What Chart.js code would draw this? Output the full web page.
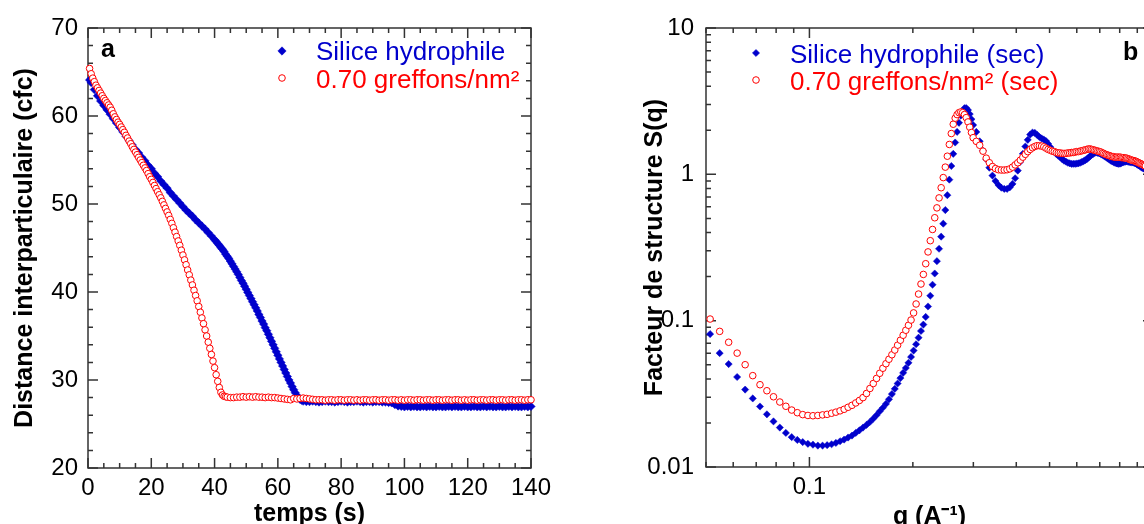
<!DOCTYPE html>
<html>
<head>
<meta charset="utf-8">
<script src="https://cdn.jsdelivr.net/npm/chart.js@4.4.1/dist/chart.umd.min.js"></script>
<style>
  html, body { margin: 0; padding: 0; background: #fff; overflow: hidden; }
  body { width: 1144px; height: 524px; position: relative; }
  canvas { position: absolute; top: 0; }
  #chartA { left: 0; }
  #chartB { left: 630px; }
</style>
</head>
<body>
<canvas id="chartA" width="580" height="524"></canvas>
<canvas id="chartB" width="570" height="524"></canvas>
<script>
// ---- panel a : distance vs time ----
const timeTicks = [0, 20, 40, 60, 80, 100, 120, 140];
const distTicks = [20, 30, 40, 50, 60, 70];

const blueTime = [
  0.5, 1, 2, 3, 4, 5, 6, 7, 8, 9, 10,
  11, 12, 13, 14, 15, 16, 17, 18, 19, 20,
  21, 22, 23, 24, 25, 26, 27, 28, 29, 30,
  31, 32, 33, 34, 35, 36, 37, 38, 39, 40,
  40.5, 41, 41.5, 42, 42.5, 43, 43.5, 44, 44.5, 45,
  45.5, 46, 46.5, 47, 47.5, 48, 48.5, 49, 49.5, 50,
  50.5, 51, 51.5, 52, 52.5, 53, 53.5, 54, 54.5, 55,
  55.5, 56, 56.5, 57, 57.5, 58, 58.5, 59, 59.5, 60,
  60.5, 61, 61.5, 62, 62.5, 63, 63.5, 64, 64.5, 65,
  65.5, 66, 66.5, 67, 67.5, 68, 69, 70,
  71, 72, 73, 74, 75, 76, 77, 78, 79, 80,
  81, 82, 83, 84, 85, 86, 87, 88, 89, 90,
  91, 92, 93, 94, 95, 96, 97, 98, 99, 100,
  101, 102, 103, 104, 105, 106, 107, 108, 109, 110,
  111, 112, 113, 114, 115, 116, 117, 118, 119, 120,
  121, 122, 123, 124, 125, 126, 127, 128, 129, 130,
  131, 132, 133, 134, 135, 136, 137, 138, 139, 140
];
const blueDist = [
  64.1, 63.8, 63.0, 62.3, 61.7, 61.2, 60.7, 60.2, 59.7, 59.2, 58.7,
  58.2, 57.7, 57.2, 56.7, 56.2, 55.8, 55.3, 54.9, 54.4, 54.0,
  53.5, 53.1, 52.6, 52.2, 51.8, 51.3, 50.9, 50.5, 50.1, 49.7,
  49.3, 48.95, 48.6, 48.2, 47.85, 47.5, 47.15, 46.75, 46.35, 45.95,
  45.75, 45.5, 45.3, 45.05, 44.85, 44.6, 44.3, 44.05, 43.8, 43.5,
  43.2, 42.9, 42.6, 42.3, 42.0, 41.65, 41.3, 41.0, 40.65, 40.3,
  39.95, 39.6, 39.25, 38.9, 38.55, 38.2, 37.85, 37.45, 37.1, 36.7,
  36.35, 35.95, 35.6, 35.2, 34.8, 34.4, 34.0, 33.6, 33.2, 32.8,
  32.4, 32.0, 31.6, 31.2, 30.8, 30.4, 30.0, 29.65, 29.25, 28.9,
  28.55, 28.25, 28.0, 27.8, 27.7, 27.6, 27.55, 27.55,
  27.6, 27.55, 27.5, 27.55, 27.6, 27.55, 27.55, 27.5, 27.55, 27.6,
  27.55, 27.5, 27.55, 27.55, 27.6, 27.55, 27.5, 27.55, 27.55, 27.5,
  27.55, 27.55, 27.5, 27.5, 27.45, 27.4, 27.2, 27.05, 27.0, 26.95,
  27.0, 26.95, 27.0, 26.95, 26.95, 27.0, 26.95, 27.0, 26.95, 26.95,
  27.0, 26.95, 26.95, 27.0, 26.95, 27.0, 26.95, 26.95, 27.0, 26.95,
  26.95, 27.0, 26.95, 26.95, 27.0, 26.95, 27.0, 26.95, 26.95, 27.0,
  26.95, 26.95, 27.0, 26.95, 27.0, 26.95, 26.95, 27.0, 26.95, 27.0
];

const redTime = [
  0.5, 1, 1.5, 2, 2.5, 3, 3.5, 4, 4.5, 5,
  5.5, 6, 6.5, 7, 7.5, 8, 8.5, 9, 9.5, 10,
  10.5, 11, 11.5, 12, 12.5, 13, 13.5, 14, 14.5, 15,
  15.5, 16, 16.5, 17, 17.5, 18, 18.5, 19, 19.5, 20,
  20.5, 21, 21.5, 22, 22.5, 23, 23.5, 24, 24.5, 25,
  25.5, 26, 26.5, 27, 27.5, 28, 28.5, 29, 29.5, 30,
  30.5, 31, 31.5, 32, 32.5, 33, 33.5, 34, 34.5, 35,
  35.5, 36, 36.5, 37, 37.5, 38, 38.5, 39, 39.5, 40,
  40.5, 41, 41.5, 42, 42.5, 43, 43.5, 44,
  45, 46, 47, 48, 49, 50, 51, 52, 53, 54,
  55, 56, 57, 58, 59, 60, 61, 62, 63, 64,
  65, 66, 67, 68, 69, 70, 71, 72, 73, 74,
  75, 76, 77, 78, 79, 80, 81, 82, 83, 84,
  85, 86, 87, 88, 89, 90, 91, 92, 93, 94,
  95, 96, 97, 98, 99, 100, 101, 102, 103, 104,
  105, 106, 107, 108, 109, 110, 111, 112, 113, 114,
  115, 116, 117, 118, 119, 120, 121, 122, 123, 124,
  125, 126, 127, 128, 129, 130, 131, 132, 133, 134,
  135, 136, 137, 138, 139, 140
];
const redDist = [
  65.4, 64.8, 64.3, 63.9, 63.5, 63.2, 62.9, 62.6, 62.3, 62.0,
  61.75, 61.5, 61.25, 61.0, 60.65, 60.25, 59.9, 59.6, 59.3, 59.05,
  58.75, 58.45, 58.15, 57.8, 57.5, 57.15, 56.85, 56.5, 56.2, 55.9,
  55.6, 55.3, 55.0, 54.7, 54.4, 54.1, 53.8, 53.45, 53.1, 52.8,
  52.45, 52.1, 51.75, 51.4, 51.05, 50.7, 50.3, 49.9, 49.5, 49.1,
  48.7, 48.25, 47.8, 47.3, 46.8, 46.3, 45.8, 45.3, 44.75, 44.2,
  43.65, 43.1, 42.5, 41.95, 41.35, 40.8, 40.2, 39.6, 39.0, 38.35,
  37.7, 37.05, 36.4, 35.7, 35.0, 34.3, 33.6, 32.9, 32.15, 31.4,
  30.6, 29.85, 29.15, 28.6, 28.3, 28.15, 28.1, 28.05,
  28.0, 28.0, 28.05, 28.05, 28.1, 28.05, 28.1, 28.05, 28.1, 28.05,
  28.05, 28.0, 28.05, 28.0, 28.0, 27.95, 27.9, 27.85, 27.8, 27.75,
  27.9, 27.85, 27.9, 27.95, 27.9, 27.85, 27.8, 27.75, 27.75, 27.75,
  27.7, 27.75, 27.75, 27.7, 27.75, 27.75, 27.7, 27.75, 27.75, 27.7,
  27.75, 27.7, 27.75, 27.75, 27.7, 27.75, 27.75, 27.7, 27.75, 27.75,
  27.7, 27.75, 27.75, 27.7, 27.75, 27.7, 27.75, 27.75, 27.7, 27.75,
  27.75, 27.7, 27.75, 27.75, 27.7, 27.75, 27.75, 27.7, 27.75, 27.75,
  27.7, 27.75, 27.75, 27.7, 27.75, 27.7, 27.75, 27.75, 27.7, 27.75,
  27.75, 27.7, 27.75, 27.75, 27.7, 27.75, 27.75, 27.7, 27.75, 27.75,
  27.7, 27.75, 27.75, 27.7, 27.75, 27.75
];

// ---- panel b : structure factor ----
const qTicks = [0.1, 1];
const sTicks = [0.01, 0.1, 1, 10];

const qValues = [
  0.0514, 0.0548, 0.0582, 0.0616, 0.065, 0.0684, 0.0718, 0.0752, 0.0786, 0.082,
  0.0854, 0.0888, 0.0922, 0.0956, 0.099, 0.1024, 0.1058, 0.1092, 0.1126, 0.116,
  0.1194, 0.1228, 0.1262, 0.1296, 0.133, 0.1364, 0.1398, 0.1432, 0.1466, 0.15,
  0.1534, 0.1568, 0.1602, 0.1636, 0.167, 0.1704, 0.1738, 0.1772, 0.1806, 0.184,
  0.1874, 0.1908, 0.1942, 0.1976, 0.201, 0.2044, 0.2078, 0.2112, 0.2146, 0.218,
  0.2214, 0.2248, 0.2282, 0.2316, 0.235, 0.2384, 0.2418, 0.2452, 0.2486, 0.252,
  0.2554, 0.2588, 0.2622, 0.2656, 0.269, 0.2724, 0.2758, 0.2792, 0.2826, 0.286,
  0.2894, 0.2928, 0.2962, 0.2996,
  0.306, 0.313, 0.320, 0.327, 0.334, 0.341, 0.348, 0.355, 0.362, 0.369,
  0.376, 0.383, 0.390, 0.397, 0.404, 0.411, 0.418, 0.425, 0.432, 0.439,
  0.446, 0.453, 0.460, 0.467, 0.474, 0.481, 0.488, 0.495, 0.502, 0.509,
  0.516, 0.523, 0.530, 0.537, 0.544, 0.551, 0.558, 0.565, 0.572, 0.579,
  0.586, 0.593, 0.600, 0.607, 0.614, 0.621, 0.628, 0.635, 0.642, 0.649,
  0.656, 0.663, 0.670, 0.677, 0.684, 0.691, 0.698, 0.705, 0.712, 0.719,
  0.726, 0.733, 0.740, 0.747, 0.754, 0.761, 0.768, 0.775, 0.782, 0.789,
  0.796, 0.803, 0.810, 0.817, 0.824, 0.831, 0.838, 0.845, 0.852, 0.859,
  0.866, 0.873, 0.880, 0.887, 0.894, 0.901, 0.908, 0.915, 0.922, 0.929,
  0.936, 0.943, 0.950
];
const sBlue = [
  0.081, 0.060, 0.0505, 0.0412, 0.0338, 0.0294, 0.0259, 0.0229, 0.0205, 0.0186,
  0.0171, 0.0160, 0.0153, 0.0148, 0.0144, 0.0142, 0.0140, 0.0140, 0.0141, 0.0143,
  0.0146, 0.0150, 0.0154, 0.0159, 0.0164, 0.0171, 0.0178, 0.0186, 0.0194, 0.0203,
  0.0214, 0.0226, 0.0240, 0.0254, 0.0270, 0.0290, 0.0315, 0.0342, 0.0372, 0.0405,
  0.0440, 0.0475, 0.0515, 0.0565, 0.0625, 0.069, 0.0765, 0.085, 0.094, 0.106,
  0.125, 0.148, 0.176, 0.21, 0.255, 0.31, 0.375, 0.46, 0.57, 0.72,
  0.92, 1.14, 1.38, 1.65, 1.95, 2.25, 2.52, 2.72, 2.83, 2.84,
  2.75, 2.58, 2.38, 2.17,
  1.95, 1.68, 1.45, 1.27, 1.11, 0.98, 0.90, 0.845, 0.81, 0.795,
  0.795, 0.815, 0.86, 0.94, 1.06, 1.22, 1.38, 1.55, 1.72, 1.87,
  1.93, 1.92, 1.86, 1.80, 1.76, 1.73, 1.69, 1.62, 1.54, 1.47,
  1.42, 1.38, 1.34, 1.31, 1.27, 1.24, 1.22, 1.20, 1.19, 1.18,
  1.18, 1.18, 1.185, 1.19, 1.20, 1.215, 1.23, 1.25, 1.27, 1.30,
  1.33, 1.36, 1.38, 1.40, 1.41, 1.40, 1.39, 1.375, 1.36, 1.34,
  1.32, 1.30, 1.28, 1.26, 1.24, 1.225, 1.21, 1.20, 1.19, 1.185,
  1.18, 1.185, 1.195, 1.205, 1.215, 1.22, 1.225, 1.22, 1.215, 1.21,
  1.21, 1.205, 1.20, 1.19, 1.18, 1.165, 1.15, 1.14, 1.125, 1.11,
  1.10, 1.09, 1.08
];
const sRed = [
  0.1026, 0.0845, 0.0712, 0.0600, 0.0500, 0.0421, 0.0365, 0.0332, 0.0302, 0.0278,
  0.0260, 0.0245, 0.0235, 0.0228, 0.0225, 0.0224, 0.0225, 0.0227, 0.0229, 0.0233,
  0.0237, 0.0242, 0.0248, 0.0256, 0.0264, 0.0274, 0.0285, 0.0298, 0.0318, 0.0344,
  0.0372, 0.0403, 0.0437, 0.0473, 0.0508, 0.0545, 0.0585, 0.063, 0.068, 0.0735,
  0.0795, 0.086, 0.093, 0.101, 0.113, 0.13, 0.152, 0.178, 0.207, 0.245,
  0.295, 0.352, 0.42, 0.505, 0.59, 0.69, 0.81, 0.95, 1.12, 1.33,
  1.6, 1.9, 2.2, 2.42, 2.56, 2.64, 2.67, 2.64, 2.56, 2.44,
  2.28, 2.1, 1.93, 1.78,
  1.68, 1.58, 1.44, 1.29, 1.20, 1.13, 1.095, 1.075, 1.07, 1.07,
  1.075, 1.09, 1.12, 1.16, 1.20, 1.25, 1.31, 1.37, 1.43, 1.48,
  1.52, 1.55, 1.57, 1.57, 1.56, 1.54, 1.51, 1.48, 1.46, 1.44,
  1.43, 1.41, 1.40, 1.40, 1.39, 1.39, 1.39, 1.40, 1.40, 1.41,
  1.41, 1.42, 1.43, 1.43, 1.44, 1.45, 1.46, 1.47, 1.48, 1.49,
  1.49, 1.48, 1.47, 1.46, 1.45, 1.44, 1.43, 1.42, 1.40, 1.39,
  1.37, 1.36, 1.35, 1.34, 1.33, 1.32, 1.32, 1.31, 1.31, 1.31,
  1.31, 1.31, 1.30, 1.30, 1.30, 1.29, 1.29, 1.28, 1.27, 1.26,
  1.25, 1.245, 1.24, 1.23, 1.225, 1.21, 1.20, 1.19, 1.18, 1.17,
  1.16, 1.15, 1.14
];

const BLUE = '#0000cc';
const RED = '#ff0000';
const FONT = "'Liberation Sans', Arial, sans-serif";

Chart.defaults.font.family = FONT;
Chart.defaults.font.size = 24;
Chart.defaults.color = '#000';

const toPoints = (xs, ys) => xs.map((x, i) => ({ x: x, y: ys[i] }));
const setTicks = values => scale => { scale.ticks = values.map(v => ({ value: v })); };

// minor tick positions (axis decoration only)
const linMinor = (min, max, step) => { const out = []; for (let v = min; v <= max + 1e-9; v += step) out.push(v); return out; };
const logMinor = (decades, mults) => { const out = []; decades.forEach(d => mults.forEach(m => out.push(m * d))); return out; };

function drawMarker(ctx, ds, x, y) {
  const r = ds.pointRadius;
  ctx.beginPath();
  if (ds.pointStyle === 'rectRot') {
    ctx.moveTo(x, y - r); ctx.lineTo(x + r, y); ctx.lineTo(x, y + r); ctx.lineTo(x - r, y);
    ctx.closePath();
  } else {
    ctx.arc(x, y, r, 0, Math.PI * 2);
  }
  ctx.fillStyle = ds.backgroundColor;
  ctx.fill();
  if (ds.borderWidth) {
    ctx.lineWidth = ds.borderWidth;
    ctx.strokeStyle = ds.borderColor;
    ctx.stroke();
  }
}

// frame with inward ticks on all four sides, legend and panel letter
const frameTicks = {
  id: 'frameTicks',
  beforeDatasetsDraw(chart, args, opts) {
    const { ctx, chartArea: a, scales } = chart;
    ctx.save();
    ctx.strokeStyle = '#333';
    ctx.lineWidth = 1.5;
    ctx.beginPath();
    const mark = (scale, v, len) => {
      const p = scale.getPixelForValue(v);
      if (scale.isHorizontal()) {
        ctx.moveTo(p, a.bottom); ctx.lineTo(p, a.bottom - len);
        ctx.moveTo(p, a.top); ctx.lineTo(p, a.top + len);
      } else {
        ctx.moveTo(a.left, p); ctx.lineTo(a.left + len, p);
        ctx.moveTo(a.right, p); ctx.lineTo(a.right - len, p);
      }
    };
    opts.xMinor.forEach(v => mark(scales.x, v, 5));
    opts.yMinor.forEach(v => mark(scales.y, v, 5));
    scales.x.ticks.forEach(t => mark(scales.x, t.value, 10));
    scales.y.ticks.forEach(t => mark(scales.y, t.value, 10));
    ctx.stroke();
    ctx.strokeRect(a.left, a.top, a.right - a.left, a.bottom - a.top);
    ctx.restore();
  },
  afterDraw(chart, args, opts) {
    const { ctx } = chart;
    ctx.save();
    ctx.textAlign = 'left';
    ctx.textBaseline = 'alphabetic';
    ctx.fillStyle = '#000';
    ctx.font = 'bold 25px ' + FONT;
    ctx.fillText(opts.panel.text, opts.panel.x, opts.panel.y);
    ctx.font = '26px ' + FONT;
    opts.legend.rows.forEach((row, i) => {
      const ds = chart.data.datasets[i];
      drawMarker(ctx, ds, opts.legend.markerX, row.markerY);
      ctx.fillStyle = ds.borderColor;
      ctx.fillText(ds.label, opts.legend.textX, row.textY);
    });
    ctx.restore();
  }
};

const titleFont = { size: 25, weight: 'bold' };

new Chart(document.getElementById('chartA'), {
  type: 'scatter',
  data: {
    datasets: [
      { label: 'Silice hydrophile', data: toPoints(blueTime, blueDist), pointStyle: 'rectRot',
        pointRadius: 4.2, backgroundColor: BLUE, borderColor: BLUE, borderWidth: 0.5, order: 2, clip: false },
      { label: '0.70 greffons/nm\u00B2', data: toPoints(redTime, redDist), pointStyle: 'circle',
        pointRadius: 3.3, backgroundColor: '#fff', borderColor: RED, borderWidth: 1, order: 1, clip: false }
    ]
  },
  options: {
    responsive: false, animation: false, devicePixelRatio: 1, events: [],
    layout: { padding: { top: 28, right: 49, bottom: 0, left: 0 } },
    plugins: {
      legend: { display: false }, tooltip: { enabled: false },
      frameTicks: {
        xMinor: linMinor(5, 135, 5), yMinor: linMinor(22, 68, 2),
        panel: { text: 'a', x: 101, y: 57 },
        legend: { markerX: 282, textX: 316, rows: [{ markerY: 51, textY: 60 }, { markerY: 78, textY: 88 }] }
      }
    },
    scales: {
      x: {
        type: 'linear', min: 0, max: 140,
        afterBuildTicks: setTicks(timeTicks),
        afterFit: s => { s.height = 56; },
        grid: { display: false, drawTicks: false }, border: { display: false },
        ticks: { padding: 6, maxRotation: 0, autoSkip: false },
        title: { display: true, text: 'temps (s)', font: titleFont, padding: { top: 0, bottom: -5 } }
      },
      y: {
        type: 'linear', min: 20, max: 70,
        afterBuildTicks: setTicks(distTicks),
        afterFit: s => { s.width = 88; },
        grid: { display: false, drawTicks: false }, border: { display: false },
        ticks: { padding: 10 },
        title: { display: true, text: 'Distance interparticulaire (cfc)', font: titleFont, padding: { top: 10, bottom: 0 } }
      }
    }
  },
  plugins: [frameTicks]
});

new Chart(document.getElementById('chartB'), {
  type: 'scatter',
  data: {
    datasets: [
      { label: 'Silice hydrophile (sec)', data: toPoints(qValues, sBlue), pointStyle: 'rectRot',
        pointRadius: 3.6, backgroundColor: BLUE, borderColor: BLUE, borderWidth: 0.5, order: 2, clip: false },
      { label: '0.70 greffons/nm\u00B2 (sec)', data: toPoints(qValues, sRed), pointStyle: 'circle',
        pointRadius: 3.3, backgroundColor: '#fff', borderColor: RED, borderWidth: 1, order: 1, clip: false }
    ]
  },
  options: {
    responsive: false, animation: false, devicePixelRatio: 1, events: [],
    layout: { padding: { top: 28, right: 47, bottom: 0, left: 0 } },
    plugins: {
      legend: { display: false }, tooltip: { enabled: false },
      frameTicks: {
        xMinor: logMinor([0.01], [5, 6, 7, 8, 9]).concat(logMinor([0.1], [2, 3, 4, 5, 6, 7, 8, 9])),
        yMinor: logMinor([0.01, 0.1, 1], [2, 3, 4, 5, 6, 7, 8, 9]),
        panel: { text: 'b', x: 493, y: 60 },
        legend: { markerX: 126, textX: 160, rows: [{ markerY: 53, textY: 63 }, { markerY: 80, textY: 90 }] }
      }
    },
    scales: {
      x: {
        type: 'logarithmic', min: 0.05, max: 1,
        afterBuildTicks: setTicks(qTicks),
        afterFit: s => { s.height = 57; },
        grid: { display: false, drawTicks: false }, border: { display: false },
        ticks: { padding: 6, maxRotation: 0, autoSkip: false, callback: v => String(v) },
        title: { display: true, text: 'q (A\u207B\u00B9)', font: titleFont, padding: { top: 0, bottom: -8 } }
      },
      y: {
        type: 'logarithmic', min: 0.01, max: 10,
        afterBuildTicks: setTicks(sTicks),
        afterFit: s => { s.width = 76; },
        grid: { display: false, drawTicks: false }, border: { display: false },
        ticks: { padding: 12, callback: v => String(v) },
        title: { display: true, text: 'Facteur de structure S(q)', font: titleFont, padding: { top: 10, bottom: 0 } }
      }
    }
  },
  plugins: [frameTicks]
});
</script>
</body>
</html>
